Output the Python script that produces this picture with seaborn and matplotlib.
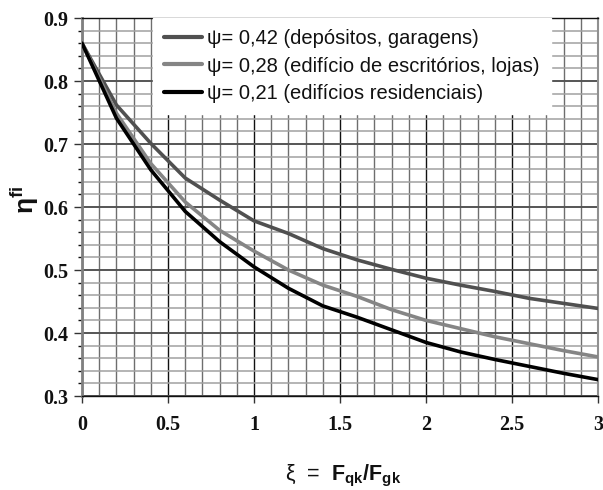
import matplotlib
matplotlib.use("Agg")
import matplotlib.pyplot as plt
import seaborn as sns
import pandas as pd
from matplotlib.ticker import MultipleLocator

xi = [0.0, 0.2, 0.4, 0.6, 0.8, 1.0, 1.2, 1.4, 1.6, 1.8, 2.0, 2.2, 2.4, 2.6, 2.8, 3.0]
eta_042 = [0.86, 0.762, 0.701, 0.646, 0.611, 0.578, 0.558, 0.534, 0.516, 0.501, 0.487, 0.476, 0.466, 0.455, 0.447, 0.439]
eta_028 = [0.86, 0.749, 0.669, 0.608, 0.563, 0.530, 0.500, 0.476, 0.458, 0.437, 0.420, 0.407, 0.394, 0.383, 0.372, 0.362]
eta_021 = [0.86, 0.741, 0.659, 0.593, 0.545, 0.505, 0.471, 0.443, 0.425, 0.405, 0.385, 0.370, 0.358, 0.347, 0.336, 0.326]
labels = ["\u03c8= 0,42 (dep\u00f3sitos, garagens)",
          "\u03c8= 0,28 (edif\u00edcio de escrit\u00f3rios, lojas)",
          "\u03c8= 0,21 (edif\u00edcios residenciais)"]
colors = ["#505050", "#858585", "#000000"]

rows = []
for lab, ys in zip(labels, [eta_042, eta_028, eta_021]):
    for x, y in zip(xi, ys):
        rows.append({"xi": x, "eta": y, "serie": lab})
df = pd.DataFrame(rows)

sns.set_theme(style="white")
plt.rcParams['font.family'] = ['Liberation Sans', 'DejaVu Sans']
plt.rcParams['mathtext.fontset'] = 'custom'
plt.rcParams['mathtext.rm'] = 'Liberation Sans'
plt.rcParams['mathtext.bf'] = 'Liberation Sans:bold'
plt.rcParams['mathtext.it'] = 'Liberation Sans:italic'

fig = plt.figure(figsize=(6.03, 4.90), dpi=100)
ax = fig.add_axes([82/603, 1-396/490, 516/603, 378/490])

# grid
ax.set_xlim(0, 3)
ax.set_ylim(0.3, 0.9)
ax.xaxis.set_major_locator(MultipleLocator(0.5))
ax.xaxis.set_minor_locator(MultipleLocator(0.1))
ax.yaxis.set_major_locator(MultipleLocator(0.1))
ax.yaxis.set_minor_locator(MultipleLocator(0.02))
ax.grid(which='minor', axis='x', color='#6e6e6e', lw=1.0, zorder=0)
ax.grid(which='major', axis='x', color='#111111', lw=1.0, zorder=0)
ax.grid(which='minor', axis='y', color='#a0a0a0', lw=1.1, zorder=0)
ax.grid(which='major', axis='y', color='#555555', lw=1.4, zorder=0)
ax.set_axisbelow(True)

sns.lineplot(data=df, x="xi", y="eta", hue="serie", hue_order=labels,
             palette=colors, lw=2.6, ax=ax, legend=False, zorder=3)

for s in ['top', 'bottom']:
    ax.spines[s].set_color('#111111')
    ax.spines[s].set_linewidth(1.0)
ax.spines['left'].set_color('#808080')
ax.spines['left'].set_linewidth(2.0)
ax.spines['right'].set_color('#909090')
ax.spines['right'].set_linewidth(1.5)

ax.tick_params(axis='y', which='major', left=True, length=6, width=1, color='#333333', pad=4)
ax.tick_params(axis='y', which='minor', left=True, length=3, width=1, color='#111111')
ax.tick_params(axis='x', which='major', bottom=True, length=5, width=1, color='#333333', pad=9)
ax.tick_params(axis='x', which='minor', bottom=False)

ax.set_xticks([0, 0.5, 1, 1.5, 2, 2.5, 3])
ax.set_xticklabels(["0", "0.5", "1", "1.5", "2", "2.5", "3"])
ax.set_yticks([0.3, 0.4, 0.5, 0.6, 0.7, 0.8, 0.9])
ax.set_yticklabels(["0.3", "0.4", "0.5", "0.6", "0.7", "0.8", "0.9"])
for t in ax.get_xticklabels() + ax.get_yticklabels():
    t.set_fontfamily('Liberation Serif')
    t.set_fontweight('bold')
    t.set_fontsize(14.5)
    t.set_color('#111111')

ax.set_xlabel("")
ax.set_ylabel("")
fig.text(25/603, 1-200/490, r"$\mathbf{\eta}^{\mathbf{fi}}$", rotation=90,
         ha='center', va='center', fontsize=19, color='#111111')
fig.text(343/603, 1-476/490, "\u03be  =  $\\mathbf{F_{qk}/F_{gk}}$",
         ha='center', va='center', fontsize=15.5, color='#111111')

handles = [plt.Line2D([], [], color=c, lw=3.0) for c in colors]
leg = ax.legend(handles, labels, loc='upper left',
                bbox_to_anchor=((153-82)/516, 1.0), borderaxespad=0,
                frameon=True, fancybox=False, framealpha=1.0,
                facecolor='white', edgecolor='white', fontsize=14.5,
                handlelength=1.9, handletextpad=0.25, labelspacing=0.42,
                borderpad=0.55)
leg.set_zorder(5)
for t in leg.get_texts():
    t.set_color('#111111')

fig.savefig("out.png", dpi=100)
